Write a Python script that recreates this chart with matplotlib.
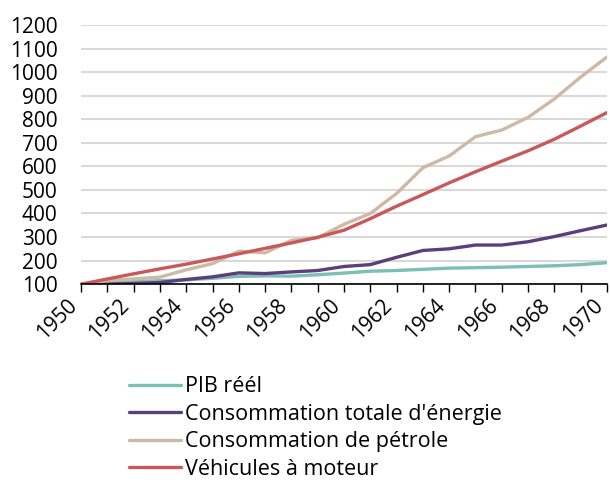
import matplotlib.pyplot as plt

plt.rcParams['font.family'] = ['Open Sans', 'DejaVu Sans']

years = list(range(1950, 1971))
pib = [100, 105, 110, 115, 118, 125, 133, 135, 134, 140, 147, 155, 158, 163, 168, 170, 172, 175, 178, 183, 191]
energie = [100, 100, 103, 107, 120, 131, 148, 145, 152, 158, 175, 183, 214, 243, 250, 266, 266, 280, 302, 327, 351]
petrole = [100, 115, 122, 130, 161, 187, 240, 233, 286, 297, 354, 400, 485, 594, 644, 726, 754, 808, 886, 979, 1064]
vehicules = [100, 122, 144, 165, 185, 207, 229, 252, 275, 299, 329, 378, 431, 480, 530, 577, 622, 666, 715, 771, 828]

labels = ['PIB réél', "Consommation totale d'énergie", 'Consommation de pétrole', 'Véhicules à moteur']
colors = ['#7bbfb5', '#5c3f7a', '#cdb9a5', '#c9585a']

fig = plt.figure(figsize=(6.1, 4.8), dpi=100)
ax = fig.add_axes([0.133, 0.408, 0.862, 0.54])

for series, label, color in zip([pib, energie, petrole, vehicules], labels, colors):
    ax.plot(years, series, color=color, lw=2.4, label=label, solid_capstyle='round')

ax.set_xlim(1950, 1970)
ax.set_ylim(100, 1200)
ax.set_yticks(range(100, 1201, 100))
ax.set_xticks(range(1950, 1971, 2))
ax.set_xticks(range(1950, 1971), minor=True)
ax.tick_params(axis='x', which='both', direction='out', length=6, width=1, color='black')
ax.tick_params(axis='x', labelsize=15, rotation=45, pad=2)
ax.tick_params(axis='y', length=0, labelsize=15, pad=17)
for lab in ax.get_xticklabels():
    lab.set_ha('right')
    lab.set_va('top')

ax.grid(axis='y', color='#d9d9d9', lw=1.5)
ax.set_axisbelow(True)
for side in ['left', 'right', 'top']:
    ax.spines[side].set_visible(False)
ax.spines['bottom'].set_color('black')
ax.spines['bottom'].set_linewidth(1.2)

fig.legend(loc='upper left', bbox_to_anchor=(0.198, 0.234), frameon=False, fontsize=15.5,
           handlelength=2.4, handletextpad=0.2, labelspacing=0.3, borderaxespad=0)

fig.savefig('out.png', dpi=100)
